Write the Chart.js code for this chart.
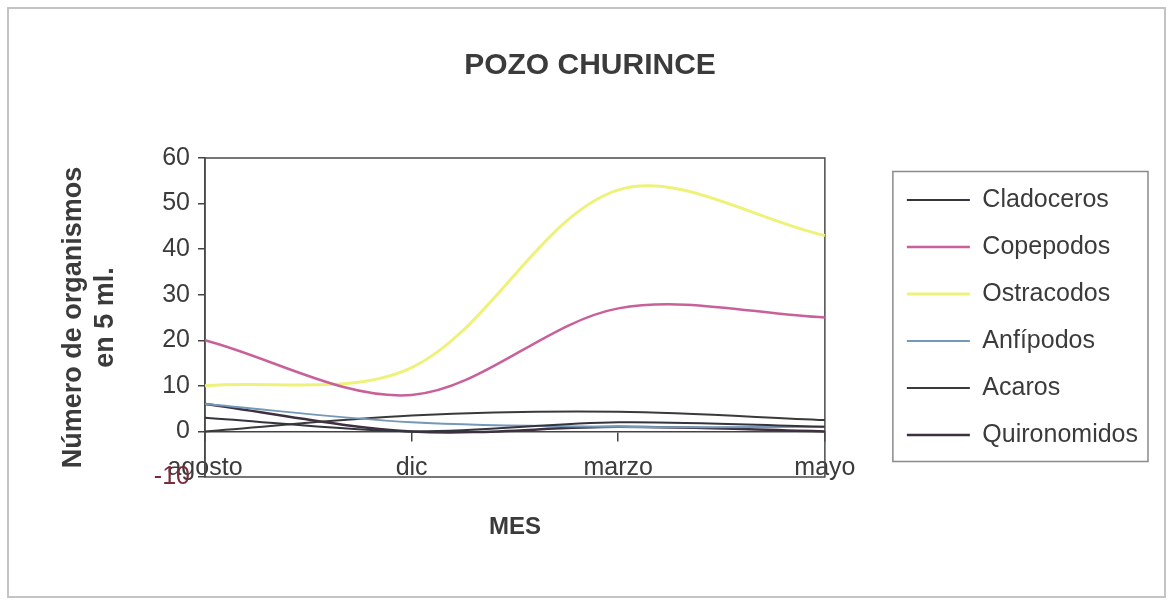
<!DOCTYPE html>
<html>
<head>
<meta charset="utf-8">
<title>POZO CHURINCE</title>
<script src="https://cdn.jsdelivr.net/npm/chart.js@4/dist/chart.umd.min.js"></script>
<style>
  html, body { margin: 0; padding: 0; background: #fff; }
  #wrap { width: 1171px; height: 601px; }
</style>
</head>
<body>
<div id="wrap"><canvas id="grafico" width="1171" height="601"></canvas></div>
<script>
// Datos
const meses = ['agosto', 'dic', 'marzo', 'mayo'];
const cladoceros = [3, 0, 2, 1];
const copepodos = [20, 8, 27, 25];
const ostracodos = [10, 14, 53, 43];
const anfipodos = [6, 2, 1, 1];
const acaros = [0, 3.5, 4.3, 2.5];
const quironomidos = [6, 0, 1, 0];
const ticksY = [-10, 0, 10, 20, 30, 40, 50, 60];

const texto = '#3b3b3b';
const fuente = '"Liberation Sans", Arial, sans-serif';

// Marco exterior, marco del área de trazado y recuadro de la leyenda
const marcos = {
    id: 'marcos',
    beforeDraw(chart) {
        const ctx = chart.ctx;
        ctx.save();
        ctx.fillStyle = '#fff';
        ctx.fillRect(0, 0, chart.width, chart.height);
        ctx.strokeStyle = '#c4c4c4';
        ctx.lineWidth = 2;
        ctx.strokeRect(8, 8, chart.width - 14, chart.height - 12);
        ctx.restore();
    },
    beforeDatasetsDraw(chart) {
        const a = chart.chartArea;
        const ctx = chart.ctx;
        ctx.save();
        ctx.strokeStyle = '#4a4a4a';
        ctx.lineWidth = 1.5;
        ctx.strokeRect(a.left, a.top, a.right - a.left, a.bottom - a.top);
        ctx.restore();
    },
    afterDraw(chart) {
        const hb = chart.legend && chart.legend.legendHitBoxes;
        if (!hb || !hb.length) return;
        const ctx = chart.ctx;
        const left = hb[0].left - 14;
        const top = hb[0].top - 16;
        const bottom = hb[hb.length - 1].top + hb[hb.length - 1].height + 14;
        ctx.save();
        ctx.strokeStyle = '#8a8a8a';
        ctx.lineWidth = 1.5;
        ctx.strokeRect(left, top, chart.width - 23 - left, bottom - top);
        ctx.restore();
    }
};

function serie(nombre, datos, color, ancho) {
    return {
        label: nombre,
        data: datos,
        borderColor: color,
        backgroundColor: color,
        borderWidth: ancho,
        pointRadius: 0,
        tension: 0.33,
        fill: false
    };
}

const grafico = new Chart(document.getElementById('grafico'), {
    type: 'line',
    data: {
        labels: meses,
        datasets: [
            serie('Cladoceros', cladoceros, '#34343e', 2),
            serie('Copepodos', copepodos, '#c8609a', 2.5),
            serie('Ostracodos', ostracodos, '#eef27a', 3),
            serie('Anfípodos', anfipodos, '#7499b8', 2),
            serie('Acaros', acaros, '#3a3a3a', 2),
            serie('Quironomidos', quironomidos, '#3e3040', 2.5)
        ]
    },
    options: {
        responsive: false,
        animation: false,
        layout: { padding: { left: 32, right: 23, top: 0, bottom: 0 } },
        plugins: {
            title: {
                display: true,
                text: 'POZO CHURINCE',
                color: texto,
                font: { family: fuente, size: 30, weight: 'bold' },
                padding: { top: 48, bottom: 74 }
            },
            legend: {
                position: 'right',
                fullSize: false,
                maxWidth: 320,
                labels: {
                    usePointStyle: true,
                    pointStyle: 'line',
                    pointStyleWidth: 63,
                    color: texto,
                    padding: 22,
                    font: { family: fuente, size: 25 }
                }
            },
            tooltip: { enabled: false }
        },
        scales: {
            x: {
                type: 'category',
                offset: false,
                grid: { display: false },
                border: { display: false },
                ticks: { display: false },
                title: {
                    display: true,
                    text: 'MES',
                    color: texto,
                    font: { family: fuente, size: 24, weight: 'bold' },
                    padding: { top: 0, bottom: 59 }
                },
                afterFit(s) { s.height = 124; }
            },
            // eje de categorías que cruza en y = 0 (etiquetas abajo)
            x2: {
                type: 'category',
                labels: meses,
                offset: false,
                position: { y: 0 },
                grid: { display: true, drawOnChartArea: false, tickLength: 9, color: '#444', lineWidth: 1.5 },
                border: { display: true, color: '#444', width: 1.5 },
                ticks: {
                    color: texto,
                    font: { family: fuente, size: 25 },
                    padding: 13,
                    maxRotation: 0,
                    autoSkip: false
                }
            },
            y: {
                min: -10,
                max: 60,
                afterBuildTicks(s) { s.ticks = ticksY.map(v => ({ value: v })); },
                grid: { display: true, drawOnChartArea: false, tickLength: 7, color: '#444', lineWidth: 1.5 },
                border: { display: true, color: '#444', width: 1.5 },
                ticks: {
                    padding: 8,
                    color: (c) => (c.tick && c.tick.value === -10 ? '#7b2b3b' : texto),
                    font: { family: fuente, size: 25 }
                },
                title: {
                    display: true,
                    text: ['Número de organismos', 'en 5 ml.'],
                    color: texto,
                    font: { family: fuente, size: 27, weight: 'bold', lineHeight: 1.2 },
                    padding: { top: 25, bottom: 0 }
                },
                afterFit(s) { s.width = 173; }
            },
            yr: {
                position: 'right',
                display: true,
                grid: { display: false },
                border: { display: false },
                ticks: { display: false },
                afterFit(s) { s.width = 60; }
            }
        }
    },
    plugins: [marcos]
});
</script>
</body>
</html>
